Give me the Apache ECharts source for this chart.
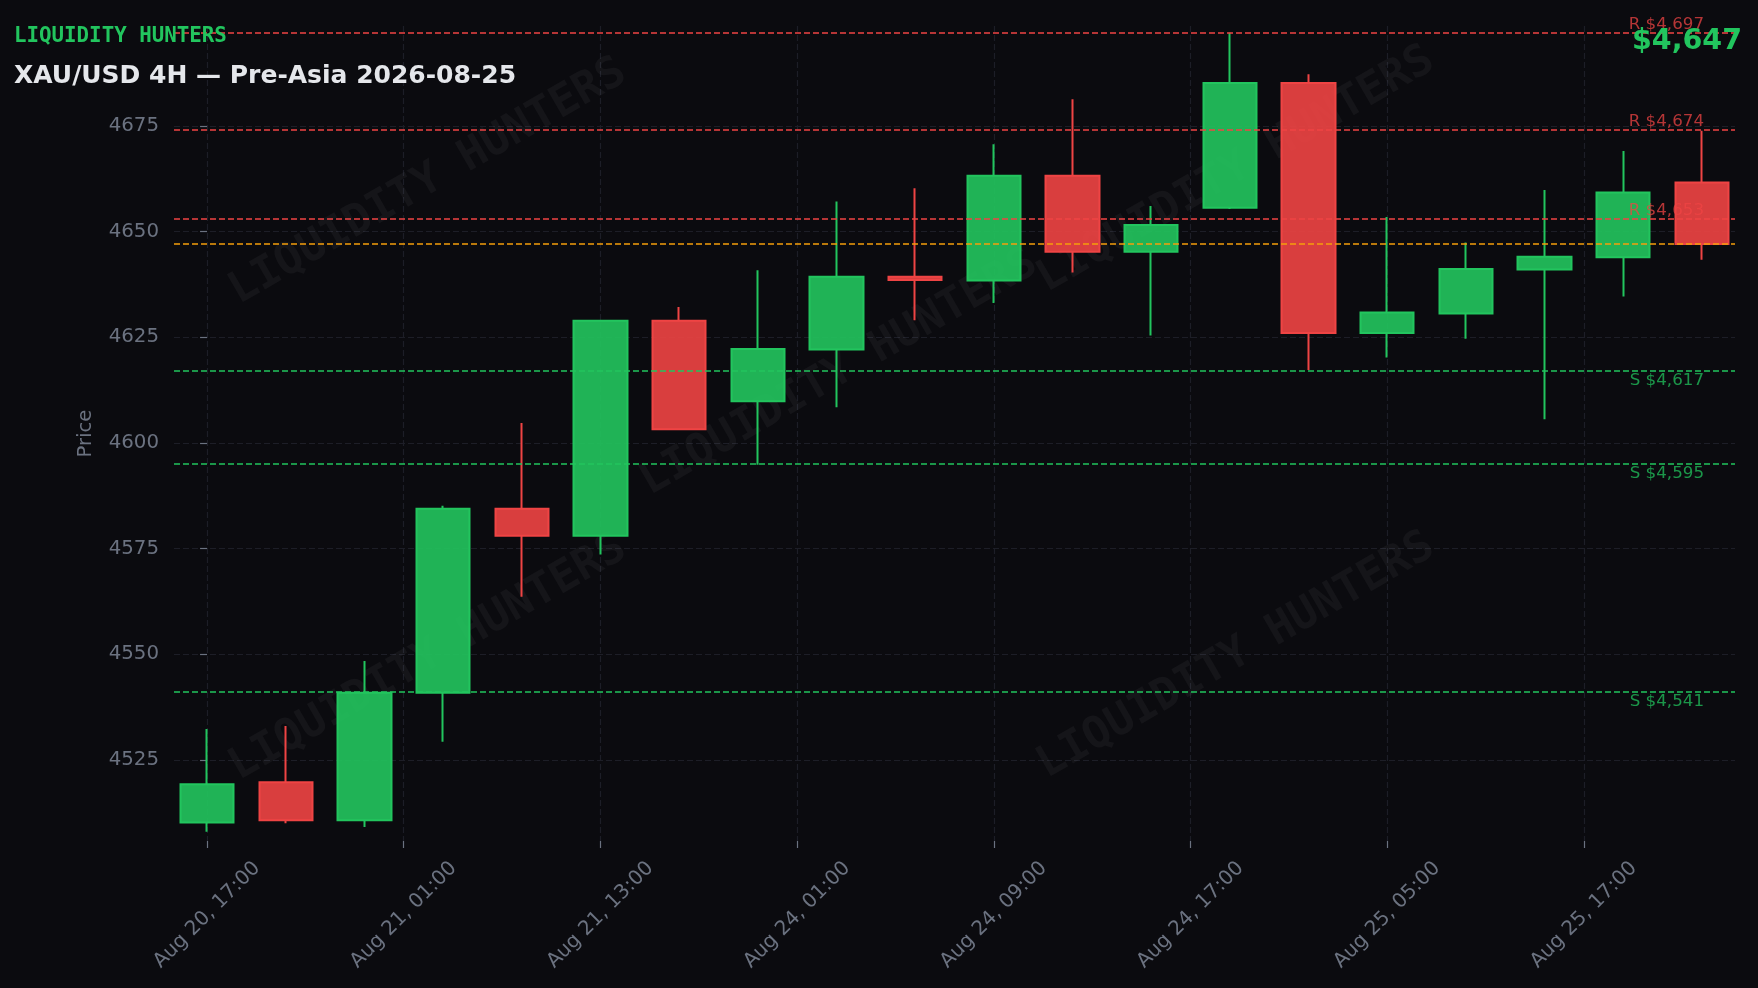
<!DOCTYPE html>
<html>
<head>
<meta charset="utf-8">
<script src="https://cdn.jsdelivr.net/npm/echarts@6/dist/echarts.min.js"></script>
<style>
html,body{margin:0;padding:0;background:#0b0b0f;}
#c{width:1758px;height:988px;}
</style>
</head>
<body>
<div id="c"></div>
<script>
// ---- data ----
const candleIndex = [0,1,2,3,4,5,6,7,8,9,10,11,12,13,14,15,16,17,18,19];
const opens  = [4510.2,4519.7,4510.7,4540.9,4584.4,4578.0,4628.9,4609.8,4622.1,4639.3,4638.4,4663.2,4645.2,4655.6,4685.1,4626.0,4630.6,4641.0,4643.9,4661.6];
const closes = [4519.2,4510.7,4540.9,4584.4,4578.0,4628.9,4603.2,4622.2,4639.3,4638.5,4663.2,4645.2,4651.5,4685.1,4626.0,4630.8,4641.1,4644.0,4659.2,4647.0];
const lows   = [4508.0,4510.0,4509.1,4529.3,4563.6,4573.6,4603.0,4594.8,4608.4,4629.0,4633.1,4640.3,4625.4,4655.3,4617.2,4620.2,4624.6,4605.6,4634.6,4643.3];
const highs  = [4532.3,4533.0,4548.4,4585.1,4604.7,4629.0,4632.1,4640.8,4657.1,4660.2,4670.6,4681.3,4656.0,4697.0,4687.2,4653.4,4647.4,4659.8,4669.0,4673.8];

const tickValues = [0,2.5,5,7.5,10,12.5,15,17.5];
const tickLabels = ['Aug 20, 17:00','Aug 21, 01:00','Aug 21, 13:00','Aug 24, 01:00','Aug 24, 09:00','Aug 24, 17:00','Aug 25, 05:00','Aug 25, 17:00'];
const yTicks = [4525,4550,4575,4600,4625,4650,4675];

const resistance = [4697,4674,4653];
const support = [4617,4595,4541];
const currentPrice = 4647;

// ---- chart ----
const fmt = v => '$' + v.toLocaleString('en-US');
const candleData = candleIndex.map((x, i) => [x, opens[i], closes[i], lows[i], highs[i]]);

const levelLines = [];
resistance.forEach(v => levelLines.push({
  yAxis: v,
  lineStyle: {color: '#ef4444', type: [6, 3], width: 1.7, opacity: 1},
  label: {show: true, position: 'insideEndTop', distance: [31, 0], formatter: 'R ' + fmt(v),
          color: 'rgba(239,68,68,0.75)', fontSize: 16.7, fontFamily: 'DejaVu Sans'}
}));
support.forEach(v => levelLines.push({
  yAxis: v,
  lineStyle: {color: '#22c55e', type: [6, 3], width: 1.7, opacity: 1},
  label: {show: true, position: 'insideEndBottom', distance: [31, 1], formatter: 'S ' + fmt(v),
          color: 'rgba(34,197,94,0.75)', fontSize: 16.7, fontFamily: 'DejaVu Sans'}
}));
levelLines.push({
  yAxis: currentPrice,
  lineStyle: {color: '#f59e0b', type: [6, 3], width: 1.7, opacity: 1},
  label: {show: false}
});

const wmPos = [[428,182],[1236,170],[839,373],[428,658],[1236,656]];
const watermarks = wmPos.map(p => ({
  type: 'text', x: p[0], y: p[1], rotation: Math.PI / 6, z: 1, silent: true,
  style: {text: 'LIQUIDITY HUNTERS', fill: 'rgba(255,255,255,0.045)',
          font: 'bold 44px "DejaVu Sans Mono"', textAlign: 'center', textVerticalAlign: 'middle'}
}));

const chart = echarts.init(document.getElementById('c'));
chart.setOption({
  backgroundColor: '#0b0b0f',
  animation: false,
  textStyle: {fontFamily: 'DejaVu Sans'},
  title: [
    {text: 'LIQUIDITY HUNTERS', left: 14, top: 26, padding: 0,
     textStyle: {color: '#22c55e', fontFamily: 'DejaVu Sans Mono', fontWeight: 'bold', fontSize: 20.8}},
    {text: 'XAU/USD 4H — Pre-Asia 2026-08-25', left: 14, top: 64, padding: 0,
     textStyle: {color: '#e5e7eb', fontFamily: 'DejaVu Sans', fontWeight: 'bold', fontSize: 25}},
    {text: fmt(currentPrice), right: 16, top: 27, padding: 0,
     textStyle: {color: '#22c55e', fontFamily: 'DejaVu Sans', fontWeight: 'bold', fontSize: 28.5}}
  ],
  graphic: watermarks,
  grid: {left: 174, right: 23, top: 26, bottom: 147},
  xAxis: {
    type: 'value', min: -0.42, max: 19.42,
    axisLine: {show: false},
    axisTick: {show: true, customValues: tickValues, length: 7, lineStyle: {color: '#6b7280', width: 1.2}},
    axisLabel: {customValues: tickValues, formatter: v => tickLabels[tickValues.indexOf(v)],
                rotate: 45, align: 'center', verticalAlign: 'middle', margin: 74,
                color: '#6b7280', fontSize: 20, fontFamily: 'DejaVu Sans'},
    splitLine: {show: true, lineStyle: {color: '#1d1e27', type: [6, 3], width: 1.2}}
  },
  yAxis: {
    type: 'value', min: 4505.8, max: 4698.6, scale: true,
    name: 'Price', nameLocation: 'middle', nameGap: 78, nameRotate: 90,
    nameTextStyle: {color: '#6b7280', fontSize: 19.6, fontFamily: 'DejaVu Sans'},
    axisLine: {show: false},
    axisTick: {show: true, customValues: yTicks, length: 7, lineStyle: {color: '#6b7280', width: 1.2}},
    axisLabel: {customValues: yTicks, formatter: v => String(v), margin: 15,
                color: '#6b7280', fontSize: 19.8, fontFamily: 'DejaVu Sans'},
    splitLine: {show: true, lineStyle: {color: '#1d1e27', type: [6, 3], width: 1.2}}
  },
  series: [{
    type: 'candlestick',
    data: candleData,
    encode: {x: 0, y: [1, 2, 3, 4]},
    barWidth: '69%',
    z: 2,
    itemStyle: {
      color: 'rgba(34,197,94,0.9)', color0: 'rgba(239,68,68,0.9)',
      borderColor: '#22c55e', borderColor0: '#ef4444', borderWidth: 2
    },
    markLine: {silent: true, symbol: 'none', animation: false, data: levelLines}
  }]
});
</script>
</body>
</html>
